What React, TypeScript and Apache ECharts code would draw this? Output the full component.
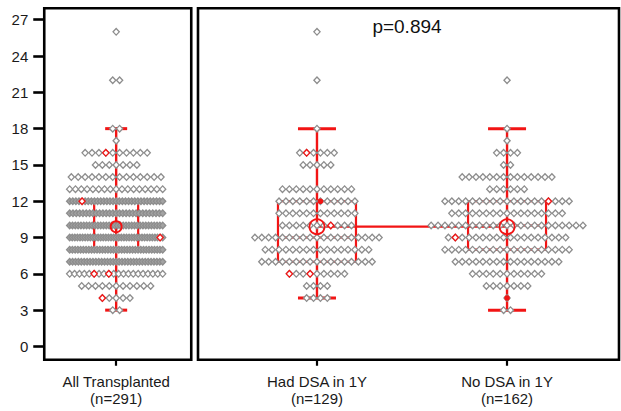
import React, { useEffect, useRef } from "react";
import * as echarts from "echarts";

// ---- data ----
const scoreLevels = [26, 22, 18, 17, 16, 15, 14, 13, 12, 11, 10, 9, 8, 7, 6, 5, 4, 3];
const allCounts = [1, 2, 2, 1, 10, 7, 14, 17, 31, 29, 34, 37, 35, 33, 20, 11, 5, 2];
const hadDsaCounts = [1, 1, 1, 0, 6, 5, 0, 11, 12, 12, 11, 19, 16, 17, 9, 4, 4, 0];
const noDsaCounts = [0, 1, 1, 1, 4, 2, 14, 6, 19, 17, 23, 18, 19, 16, 11, 7, 1, 2];

const groupLabels = ["All Transplanted\n(n=291)", "Had DSA in 1Y\n(n=129)", "No DSA in 1Y\n(n=162)"];
const yTicks = [0, 3, 6, 9, 12, 15, 18, 21, 24, 27];

const boxLow = [3, 4, 3];
const boxQ1 = [8, 7, 8];
const boxMedian = [10, 9, 10];
const boxQ3 = [12, 12, 12];
const boxHigh = [18, 18, 18];
const groupMeans = [9.9, 9.9, 9.9];
const pValueText = "p=0.894";

// highlighted points: [group, score, slot within its row]
const redOpenMarks = [
  [0, 16, 3], [0, 12, 4], [0, 9, 35], [0, 6, 5], [0, 6, 8], [0, 4, 0],
  [1, 16, 1], [1, 10, 7], [1, 6, 0], [1, 6, 3],
  [2, 12, 15], [2, 9, 1],
];
const redDotMarks = [[1, 12, 6], [2, 4, 0]];

// ---- styles ----
const GREY = "#8d8d8d";
const DENSE_FILL = "#a3a3a3";
const RED = "#f21414";
const FONT = '"Liberation Sans", Arial, sans-serif';
const SPACING = 6.9;
const DW = 3.1;
const DH = 3.3;

const groupCounts = [allCounts, hadDsaCounts, noDsaCounts];
const groupGrid = [0, 1, 1];
const groupX = [0, 0, 1];
const maxRowWidth = [93, 400];

function rowCount(g: number, score: number) {
  const i = scoreLevels.indexOf(score);
  return i >= 0 ? groupCounts[g][i] : 1;
}

function swarmRender(maxW: number, stroke: string, fill: string, denseFill: string) {
  return (_params: any, api: any) => {
    const x = api.value(0);
    const y = api.value(1);
    const k = api.value(2);
    const n = api.value(3);
    const c = api.coord([x, y]);
    const s = n > 1 ? Math.min(SPACING, maxW / (n - 1)) : 0;
    const cx = c[0] + (k - (n - 1) / 2) * s;
    const cy = c[1];
    const dense = n > 1 && s < 4;
    return {
      type: "polygon",
      shape: { points: [[cx, cy - DH], [cx + DW, cy], [cx, cy + DH], [cx - DW, cy]] },
      style: { fill: dense ? denseFill : fill, stroke, lineWidth: 1.3 },
    };
  };
}

function dotRender(maxW: number) {
  return (_params: any, api: any) => {
    const x = api.value(0);
    const y = api.value(1);
    const k = api.value(2);
    const n = api.value(3);
    const c = api.coord([x, y]);
    const s = n > 1 ? Math.min(SPACING, maxW / (n - 1)) : 0;
    const cx = c[0] + (k - (n - 1) / 2) * s;
    return { type: "circle", shape: { cx, cy: c[1], r: 2.8 }, style: { fill: RED } };
  };
}

function boxRender(halfBox: number, halfCap: number) {
  return (_params: any, api: any) => {
    const g = api.value(1);
    const x = api.value(0);
    const pLow = api.coord([x, boxLow[g]]);
    const pQ1 = api.coord([x, boxQ1[g]]);
    const pMed = api.coord([x, boxMedian[g]]);
    const pQ3 = api.coord([x, boxQ3[g]]);
    const pHigh = api.coord([x, boxHigh[g]]);
    const cx = pLow[0];
    const ls = { stroke: RED, lineWidth: 2.4 };
    const cap = { stroke: RED, lineWidth: 3 };
    return {
      type: "group",
      children: [
        { type: "line", shape: { x1: cx, y1: pLow[1], x2: cx, y2: pHigh[1] }, style: ls },
        { type: "line", shape: { x1: cx - halfCap, y1: pLow[1], x2: cx + halfCap, y2: pLow[1] }, style: cap },
        { type: "line", shape: { x1: cx - halfCap, y1: pHigh[1], x2: cx + halfCap, y2: pHigh[1] }, style: cap },
        {
          type: "rect",
          shape: { x: cx - halfBox, y: pQ3[1], width: halfBox * 2, height: pQ1[1] - pQ3[1] },
          style: { fill: "none", stroke: RED, lineWidth: 2.2 },
        },
        { type: "line", shape: { x1: cx - halfBox, y1: pMed[1], x2: cx + halfBox, y2: pMed[1] }, style: { stroke: RED, lineWidth: 2 } },
      ],
    };
  };
}

function meanRender(r: number) {
  return (_params: any, api: any) => {
    const c = api.coord([api.value(0), api.value(1)]);
    return { type: "circle", shape: { cx: c[0], cy: c[1], r }, style: { fill: "none", stroke: RED, lineWidth: 1.8 } };
  };
}

export default function App() {
  const ref = useRef<HTMLDivElement>(null);

  useEffect(() => {
    if (!ref.current) return;
    const chart = echarts.init(ref.current, undefined, { renderer: "svg" });

    const swarm: any[][] = [[], []];
    for (let g = 0; g < 3; g++) {
      scoreLevels.forEach((score, i) => {
        const n = groupCounts[g][i];
        for (let k = 0; k < n; k++) swarm[groupGrid[g]].push([groupX[g], score, k, n]);
      });
    }
    const openMarks: any[][] = [[], []];
    redOpenMarks.forEach(([g, score, k]) => {
      openMarks[groupGrid[g]].push([groupX[g], score, k, rowCount(g, score)]);
    });
    const dotMarks: any[][] = [[], []];
    redDotMarks.forEach(([g, score, k]) => {
      dotMarks[groupGrid[g]].push([groupX[g], score, k, rowCount(g, score)]);
    });
    const boxes: any[][] = [[], []];
    const means: any[][] = [[], []];
    for (let g = 0; g < 3; g++) {
      boxes[groupGrid[g]].push([groupX[g], g]);
      means[groupGrid[g]].push([groupX[g], groupMeans[g]]);
    }

    const axisLabelStyle = { fontFamily: FONT, color: "#1a1a1a" };

    const series: any[] = [];
    const halfBoxes = [22, 39];
    const halfCaps = [11, 19];
    const meanR = [5.5, 7.5];
    for (let p = 0; p < 2; p++) {
      series.push({
        type: "custom", xAxisIndex: p, yAxisIndex: p, z: 2, silent: true,
        renderItem: boxRender(halfBoxes[p], halfCaps[p]), data: boxes[p], encode: { x: 0, y: 0 },
      });
      if (p === 1) {
        series.push({
          type: "line", xAxisIndex: 1, yAxisIndex: 1, z: 3, silent: true, symbol: "none",
          lineStyle: { color: RED, width: 2.4 }, data: means[1],
        });
      }
      series.push({
        type: "custom", xAxisIndex: p, yAxisIndex: p, z: 4, silent: true,
        renderItem: swarmRender(maxRowWidth[p], GREY, "#ffffff", DENSE_FILL), data: swarm[p], encode: { x: 0, y: 1 },
      });
      series.push({
        type: "custom", xAxisIndex: p, yAxisIndex: p, z: 5, silent: true,
        renderItem: swarmRender(maxRowWidth[p], RED, "#ffffff", "#ffffff"), data: openMarks[p], encode: { x: 0, y: 1 },
      });
      series.push({
        type: "custom", xAxisIndex: p, yAxisIndex: p, z: 5, silent: true,
        renderItem: dotRender(maxRowWidth[p]), data: dotMarks[p], encode: { x: 0, y: 1 },
      });
      series.push({
        type: "custom", xAxisIndex: p, yAxisIndex: p, z: 6, silent: true,
        renderItem: meanRender(meanR[p]), data: means[p], encode: { x: 0, y: 1 },
      });
    }

    const option: any = {
      animation: false,
      backgroundColor: "#ffffff",
      grid: [
        { left: 44.25, top: 8.25, width: 147, height: 351.5, show: true, borderColor: "#000", borderWidth: 2.6, backgroundColor: "transparent" },
        { left: 198, top: 8.25, width: 421, height: 351.5, show: true, borderColor: "#000", borderWidth: 2.6, backgroundColor: "transparent" },
      ],
      xAxis: [
        {
          gridIndex: 0, type: "value", min: -1, max: 1.044, position: "bottom",
          splitLine: { show: false }, axisLine: { show: false, onZero: false },
          axisTick: { show: true, customValues: [0], length: 6, lineStyle: { color: "#000", width: 2.2 } },
          axisLabel: {
            customValues: [0], formatter: () => groupLabels[0], margin: 13,
            fontSize: 15, lineHeight: 17, ...axisLabelStyle,
          },
        },
        {
          gridIndex: 1, type: "value", min: -0.626, max: 1.589, position: "bottom",
          splitLine: { show: false }, axisLine: { show: false, onZero: false },
          axisTick: { show: true, customValues: [0, 1], length: 6, lineStyle: { color: "#000", width: 2.2 } },
          axisLabel: {
            customValues: [0, 1], formatter: (v: number) => groupLabels[Math.round(v) + 1], margin: 13,
            fontSize: 15, lineHeight: 17, ...axisLabelStyle,
          },
        },
      ],
      yAxis: [
        {
          gridIndex: 0, type: "value", min: -1.1, max: 27.95, position: "left",
          splitLine: { show: false }, axisLine: { show: false, onZero: false },
          axisTick: { show: true, customValues: yTicks, length: 11, lineStyle: { color: "#000", width: 2.6 } },
          axisLabel: { customValues: yTicks, margin: 16, fontSize: 15, ...axisLabelStyle },
        },
        {
          gridIndex: 1, type: "value", min: -1.1, max: 27.95, position: "left",
          splitLine: { show: false }, axisLine: { show: false, onZero: false },
          axisTick: { show: false }, axisLabel: { show: false },
        },
      ],
      graphic: [
        {
          type: "text", x: 407, y: 26, silent: true,
          style: {
            text: pValueText, font: `19px ${FONT}`, fill: "#111",
            textAlign: "center", textVerticalAlign: "middle", align: "center", verticalAlign: "middle",
          },
        },
      ],
      series,
    };

    chart.setOption(option);
    return () => chart.dispose();
  }, []);

  return <div ref={ref} style={{ position: "fixed", left: 0, top: 0, width: 621, height: 411 }} />;
}
